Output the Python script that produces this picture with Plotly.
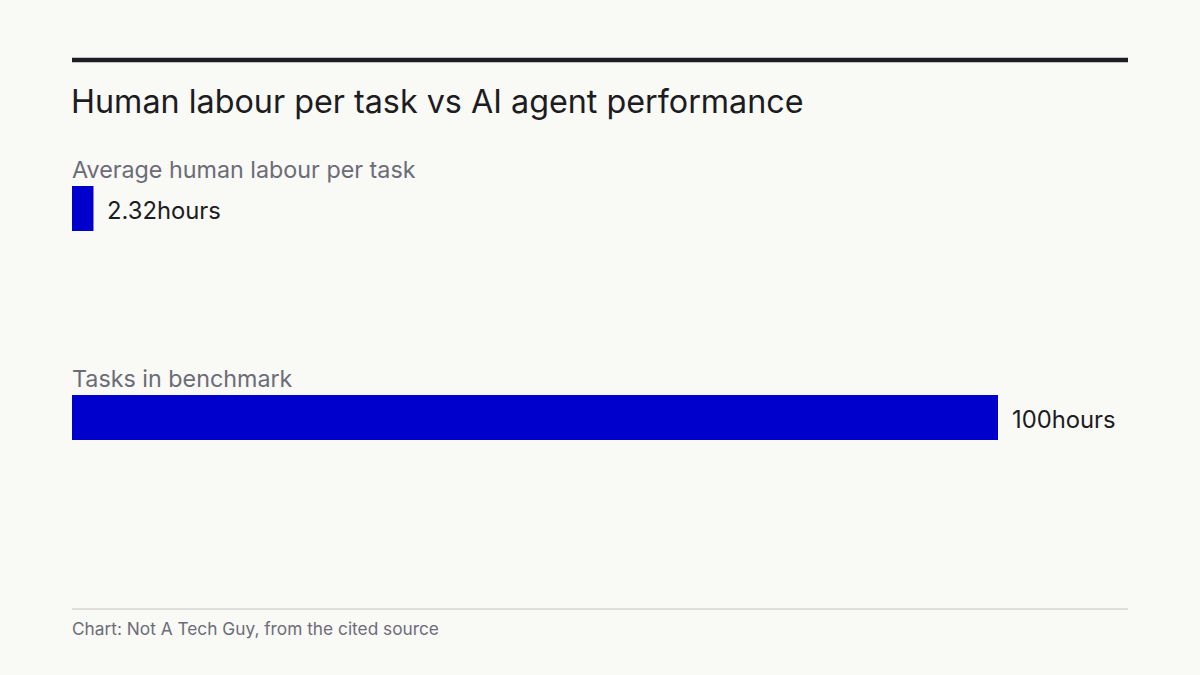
import plotly.graph_objects as go

# data
categories = ["Average human labour per task", "Tasks in benchmark"]
hours = [2.32, 100]
unit = "hours"

title = "Human labour per task vs AI agent performance"
source = "Chart: Not A Tech Guy, from the cited source"

W, H = 1200, 675
LEFT, RIGHT = 72, 1128
TOP, BOTTOM = 104, 522  # plot area in px
FONT = "Inter, Roboto, sans-serif"
BLUE = "#0000cc"
INK = "#1c1c22"
GREY = "#6c6c78"


def py(px_y):
    # pixel y -> paper y
    return (BOTTOM - px_y) / (BOTTOM - TOP)


fig = go.Figure(
    go.Bar(
        x=hours,
        y=categories,
        orientation="h",
        marker=dict(color=BLUE, line=dict(width=0)),
        width=0.215,
        hoverinfo="skip",
    )
)

annotations = []
for cat, val in zip(categories, hours):
    # category label above the bar
    annotations.append(dict(
        x=0, y=cat, xref="x", yref="y", text=cat, showarrow=False,
        xanchor="left", yanchor="bottom", yshift=23, xshift=-2,
        font=dict(family=FONT, size=23.3, color=GREY),
    ))
    # value label to the right
    annotations.append(dict(
        x=val, y=cat, xref="x", yref="y", text=f"{val:g}{unit}", showarrow=False,
        xanchor="left", yanchor="middle", xshift=12, yshift=-2,
        font=dict(family=FONT, size=23.8, color=INK),
    ))

annotations.append(dict(
    x=0, y=py(101), xref="paper", yref="paper", text=title, showarrow=False,
    xanchor="left", yanchor="middle", xshift=-3,
    font=dict(family=FONT, size=32.3, color=INK),
))
annotations.append(dict(
    x=0, y=py(628), xref="paper", yref="paper", text=source, showarrow=False,
    xanchor="left", yanchor="middle", xshift=-2,
    font=dict(family=FONT, size=17.3, color=GREY),
))

fig.update_layout(
    width=W, height=H,
    paper_bgcolor="#f9f9f6", plot_bgcolor="#f9f9f6",
    margin=dict(l=LEFT, r=W - RIGHT, t=TOP, b=H - BOTTOM),
    showlegend=False,
    xaxis=dict(range=[0, 100 * (RIGHT - LEFT) / 926], visible=False, fixedrange=True),
    yaxis=dict(range=[1.5, -0.5], visible=False, fixedrange=True),
    annotations=annotations,
    shapes=[
        dict(type="line", xref="paper", yref="paper", x0=0, x1=1,
             y0=py(60), y1=py(60), line=dict(color=INK, width=4.5)),
        dict(type="line", xref="paper", yref="paper", x0=0, x1=1,
             y0=py(609), y1=py(609), line=dict(color="#d4d4d0", width=1.5)),
    ],
)

# drop the browser's default page margin so the chart fills the window
fig.write_html(
    "out.html",
    config={"displayModeBar": False},
    post_script="document.body.style.margin='0';",
)
